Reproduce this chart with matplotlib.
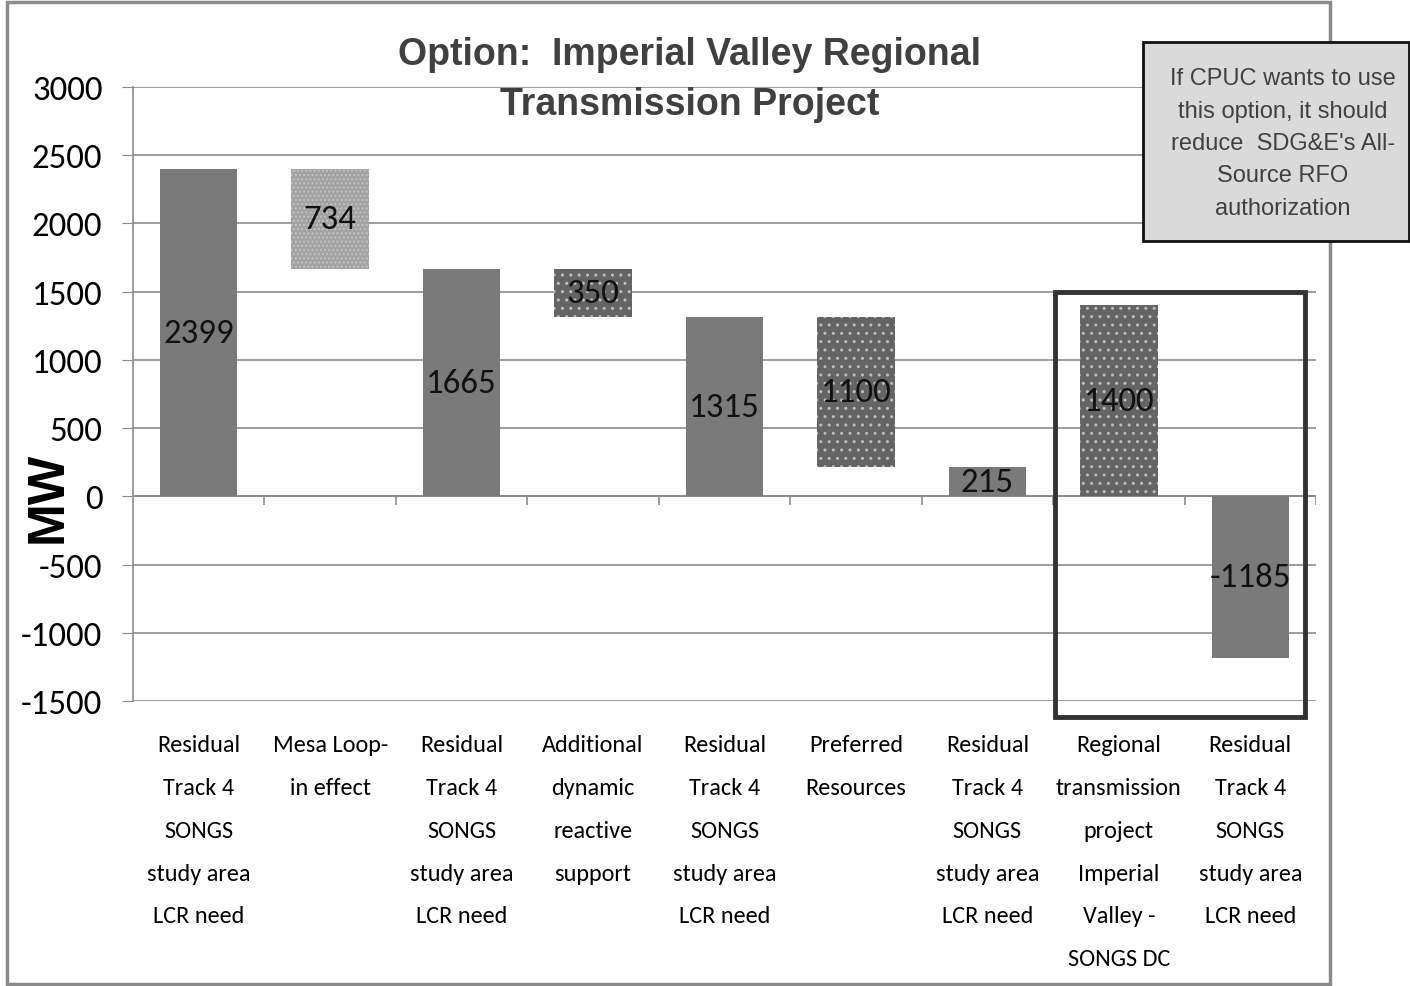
import matplotlib
matplotlib.use("Agg")
import matplotlib.pyplot as plt
from matplotlib.patches import Rectangle

FONT = ["Carlito", "DejaVu Sans"]
ARIAL = ["Liberation Sans", "DejaVu Sans"]

categories = [
    "Residual\nTrack 4\nSONGS\nstudy area\nLCR need",
    "Mesa Loop-\nin effect",
    "Residual\nTrack 4\nSONGS\nstudy area\nLCR need",
    "Additional\ndynamic\nreactive\nsupport",
    "Residual\nTrack 4\nSONGS\nstudy area\nLCR need",
    "Preferred\nResources",
    "Residual\nTrack 4\nSONGS\nstudy area\nLCR need",
    "Regional\ntransmission\nproject\nImperial\nValley -\nSONGS DC",
    "Residual\nTrack 4\nSONGS\nstudy area\nLCR need",
]
values = [2399, 734, 1665, 350, 1315, 1100, 215, 1400, -1185]
bottoms = [0, 1665, 0, 1315, 0, 215, 0, 0, 0]
styles = ["solid", "light", "solid", "dots", "solid", "dots", "solid", "dots", "solid"]
yticks = [-1500, -1000, -500, 0, 500, 1000, 1500, 2000, 2500, 3000]

W, H = 1410, 987
fig = plt.figure(figsize=(W / 100, H / 100), dpi=100)
fig.patch.set_facecolor("white")
ax = fig.add_axes([133 / W, 1 - 702 / H, (1316 - 133) / W, (702 - 88) / H])

x = list(range(len(values)))
for i, (v, b, s) in enumerate(zip(values, bottoms, styles)):
    if s == "solid":
        ax.bar(i, v, bottom=b, width=0.59, color="#7a7a7a", zorder=3)
    elif s == "light":
        ax.bar(i, v, bottom=b, width=0.59, color="#a2a2a2", hatch="....",
               edgecolor="#c4c4c4", linewidth=0, zorder=3)
    else:
        ax.bar(i, v, bottom=b, width=0.59, color="#646464", hatch="..",
               edgecolor="#bdbdbd", linewidth=0, zorder=3)
    ax.text(i, b + v / 2, str(v), ha="center", va="center", fontsize=25,
            family=FONT, color="#111111", zorder=5)

ax.set_xlim(-0.5, len(values) - 0.5)
ax.set_ylim(-1500, 3000)
ax.set_yticks(yticks)
ax.set_yticklabels([str(t) for t in yticks], family=FONT, fontsize=25)
ax.yaxis.grid(True, color="#8c8c8c", linewidth=1.2, zorder=0)
ax.tick_params(axis="y", length=8, color="#8c8c8c", pad=14)
ax.set_xticks(x)
ax.set_xticklabels(categories, family=FONT, fontsize=17.5, linespacing=2.28, va="top")
ax.tick_params(axis="x", length=0, pad=24)
for sp in ["top", "right", "bottom"]:
    ax.spines[sp].set_visible(False)
ax.spines["left"].set_color("#8c8c8c")
ax.spines["left"].set_linewidth(1.2)
ax.axhline(0, color="#8c8c8c", linewidth=1.2, zorder=2)
ax.vlines([i + 0.5 for i in x], -60, 0, color="#8c8c8c", linewidth=1.2, zorder=2)

fig.text(48 / W, 1 - 497 / H, "MW", rotation=90, ha="center", va="center",
         fontsize=37, fontweight="bold", family=ARIAL, color="black")

fig.text(690 / W, 1 - 80 / H, "Option:  Imperial Valley Regional\nTransmission Project",
         ha="center", va="center", fontsize=27, fontweight="bold",
         family=ARIAL, color="#404040", linespacing=1.5)

# outer chart frame
fig.patches.append(Rectangle((7 / W, 1 - 985 / H), (1330 - 7) / W, (985 - 3) / H,
                             transform=fig.transFigure, fill=False,
                             edgecolor="#8a8a8a", linewidth=2.5))
# highlight box
fig.patches.append(Rectangle((1055 / W, 1 - 718 / H), (1305 - 1055) / W, (718 - 293) / H,
                             transform=fig.transFigure, fill=False,
                             edgecolor="#333333", linewidth=3.5, zorder=6))
# annotation box
fig.patches.append(Rectangle((1143 / W, 1 - 242 / H), (1409 - 1143) / W, (242 - 43) / H,
                             transform=fig.transFigure, facecolor="#dadada",
                             edgecolor="#111111", linewidth=2, zorder=7))
fig.text(1283 / W, 1 - 144 / H,
         "If CPUC wants to use\nthis option, it should\nreduce  SDG&E's All-\nSource RFO\nauthorization",
         ha="center", va="center", fontsize=17, family=ARIAL,
         color="#404040", linespacing=1.61, zorder=8)

fig.savefig("out.png", dpi=100)
